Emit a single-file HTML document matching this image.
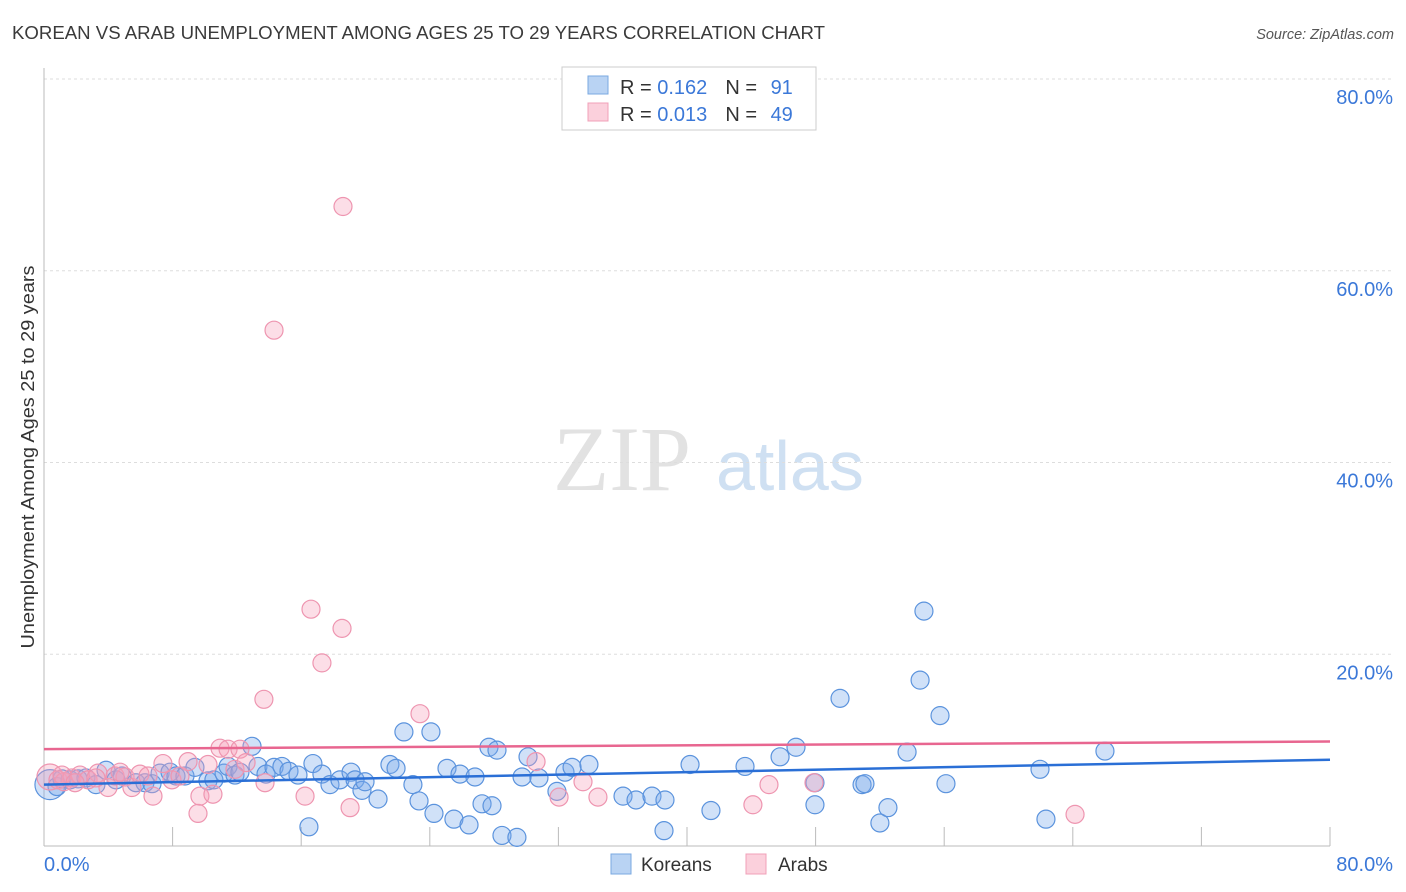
<!DOCTYPE html>
<html><head><meta charset="utf-8"><style>
body{margin:0;background:#fff;font-family:"Liberation Sans",sans-serif}
svg{display:block}
</style></head><body>
<svg id="chart" width="1406" height="892">
<text x="12" y="39" font-size="18" fill="#3a3a3a" textLength="813" lengthAdjust="spacingAndGlyphs">KOREAN VS ARAB UNEMPLOYMENT AMONG AGES 25 TO 29 YEARS CORRELATION CHART</text>
<text x="1394" y="39" font-size="14.5" fill="#555" font-style="italic" text-anchor="end">Source: ZipAtlas.com</text>
<g>
<text x="553" y="490" font-size="92" font-family="Liberation Serif,serif" fill="#e2e2e2">ZIP</text>
<text x="716" y="490" font-size="70" fill="#cfe0f2">atlas</text>
</g>
<g id="grid"></g>
<g id="axes"></g>
<text transform="translate(34,457) rotate(-90)" font-size="18" fill="#333" text-anchor="middle" textLength="383" lengthAdjust="spacingAndGlyphs">Unemployment Among Ages 25 to 29 years</text>
<g id="marks"></g>
<g id="trends"></g>
<g>
<rect x="562" y="67" width="254" height="63" fill="#fff" stroke="#ccc"/>
<rect x="588" y="76" width="20" height="18" fill="#b9d3f3" stroke="#7aa8e0"/>
<rect x="588" y="103" width="20" height="18" fill="#fbd0dc" stroke="#f0a0b8"/>
<text x="620" y="94" font-size="20" fill="#333">R = <tspan fill="#3b78d8">0.162</tspan><tspan dx="18">N = </tspan><tspan fill="#3b78d8" dx="8">91</tspan></text>
<text x="620" y="121" font-size="20" fill="#333">R = <tspan fill="#3b78d8">0.013</tspan><tspan dx="18">N = </tspan><tspan fill="#3b78d8" dx="8">49</tspan></text>
</g>
<g>
<rect x="611" y="854" width="20" height="20" fill="#b9d3f3" stroke="#7aa8e0"/>
<text x="641" y="871" font-size="19" fill="#333">Koreans</text>
<rect x="746" y="854" width="20" height="20" fill="#fbd0dc" stroke="#f0a0b8"/>
<text x="778" y="871" font-size="19" fill="#333">Arabs</text>
</g>
</svg>
<script>
const yTicks=[20,40,60,80];
const yTickLabels=["20.0%","40.0%","60.0%","80.0%"];
const xTickVals=[8,16,24,32,40,48,56,64,72,80];
const koreans=[[0.37,6.4],[0.81,6.2],[1.12,7.0],[1.62,6.9],[2.12,7.0],[2.61,7.1],[3.23,6.4],[3.86,7.9],[4.48,6.9],[4.85,7.3],[5.72,6.6],[6.28,6.6],[6.72,6.5],[7.22,7.6],[7.84,7.7],[8.21,7.3],[8.77,7.3],[9.39,8.2],[10.2,6.8],[10.57,6.9],[11.2,7.6],[11.45,8.3],[11.88,7.4],[12.19,7.7],[12.94,10.4],[13.31,8.3],[13.81,7.5],[14.31,8.2],[14.8,8.3],[15.24,7.8],[15.8,7.4],[16.48,2.0],[16.73,8.6],[17.29,7.5],[17.79,6.4],[18.41,6.9],[19.1,7.7],[19.35,6.9],[19.78,5.8],[19.97,6.7],[20.78,4.9],[21.52,8.5],[21.9,8.1],[22.39,11.9],[22.95,6.4],[23.33,4.7],[24.07,11.9],[24.26,3.4],[25.07,8.1],[25.5,2.8],[25.88,7.5],[26.44,2.2],[26.81,7.2],[27.25,4.4],[27.68,10.3],[27.87,4.2],[28.18,10.0],[28.49,1.1],[29.42,0.9],[29.74,7.2],[30.11,9.3],[30.79,7.1],[31.91,5.7],[32.41,7.7],[32.85,8.2],[33.9,8.5],[36.02,5.2],[36.83,4.8],[37.82,5.2],[38.57,1.6],[38.63,4.8],[40.19,8.5],[41.49,3.7],[43.61,8.3],[45.79,9.3],[46.78,10.3],[47.96,4.3],[47.96,6.6],[49.52,15.4],[50.89,6.4],[51.07,6.5],[52.0,2.4],[52.5,4.0],[53.69,9.8],[54.5,17.3],[54.74,24.5],[55.74,13.6],[56.11,6.5],[61.96,8.0],[62.33,2.8],[66.0,9.9]];
const arabs=[[0.37,7.2],[0.87,6.9],[1.24,6.7],[1.74,7.1],[2.24,7.4],[2.74,6.9],[3.36,7.6],[3.98,6.1],[4.42,7.3],[5.04,7.2],[5.47,6.1],[5.97,7.5],[6.47,7.3],[6.78,5.2],[7.4,8.6],[7.96,6.9],[8.46,7.3],[8.96,8.8],[9.58,3.4],[9.7,5.2],[10.2,8.5],[10.51,5.4],[10.95,10.2],[11.45,10.1],[11.88,8.0],[12.19,10.1],[12.57,8.7],[13.68,15.3],[13.75,6.6],[14.31,53.8],[16.24,5.2],[16.61,24.7],[17.29,19.1],[18.54,22.7],[18.6,66.7],[19.04,4.0],[23.39,13.8],[30.61,8.8],[32.04,5.1],[33.53,6.7],[34.46,5.1],[44.1,4.3],[45.1,6.4],[47.9,6.6],[64.14,3.3],[1.12,7.4],[3.23,7.1],[4.73,7.7],[1.93,6.6]];
const trendKoreans=[6.4,9.0];
const trendArabs=[10.1,10.9];
const NS="http://www.w3.org/2000/svg";
const X0=44,X1=1330,Y0=846,Y1=79;
const sx=v=>X0+v/80*(X1-X0);
const sy=v=>Y0-v/80*(Y0-Y1);
function mk(tag,attrs,parent){const e=document.createElementNS(NS,tag);for(const k in attrs)e.setAttribute(k,attrs[k]);parent.appendChild(e);return e;}
const grid=document.getElementById('grid'),axes=document.getElementById('axes');
yTicks.forEach((t,i)=>{
 const l=mk('line',{x1:X0,x2:1393,y1:sy(t),y2:sy(t),stroke:'#ddd','stroke-dasharray':'3,3'},grid);
 
 
 const tx=mk('text',{x:1393,y:sy(t)+25,'font-size':20,fill:'#3b78d8','text-anchor':'end'},axes);
 tx.textContent=yTickLabels[i];
 
 
});
const ax=mk('line',{x1:X0,x2:X0,y1:68,y2:Y0,stroke:'#bbb'},axes);


const bx=mk('line',{x1:X0,x2:X1,y1:Y0,y2:Y0,stroke:'#bbb'},axes);


xTickVals.forEach(t=>{
 const l=mk('line',{x1:sx(t),x2:sx(t),y1:Y0-19,y2:Y0,stroke:'#bbb'},axes);
 
 
});
const xl0=mk('text',{x:44,y:871,'font-size':20,fill:'#3b78d8'},axes);xl0.textContent='0.0%';


const xl1=mk('text',{x:1393,y:871,'font-size':20,fill:'#3b78d8','text-anchor':'end'},axes);xl1.textContent='80.0%';


const marks=document.getElementById('marks');
koreans.forEach((p,i)=>{
 const c=mk('circle',{cx:sx(p[0]),cy:sy(p[1]),r:i===0?15:9,fill:'rgba(120,170,235,0.35)',stroke:'#5b93dd','stroke-width':1.2},marks);
 
 
});
arabs.forEach((p,i)=>{
 const c=mk('circle',{cx:sx(p[0]),cy:sy(p[1]),r:i===0?13:9,fill:'rgba(245,160,185,0.35)',stroke:'#ee95b0','stroke-width':1.2},marks);
 
 
});
const tr=document.getElementById('trends');
const tk=mk('line',{x1:sx(0),x2:sx(80),y1:sy(trendKoreans[0]),y2:sy(trendKoreans[1]),stroke:'#2a6fd6','stroke-width':2.5},tr);


const ta=mk('line',{x1:sx(0),x2:sx(80),y1:sy(trendArabs[0]),y2:sy(trendArabs[1]),stroke:'#e86690','stroke-width':2.5},tr);


</script>
</body></html>
